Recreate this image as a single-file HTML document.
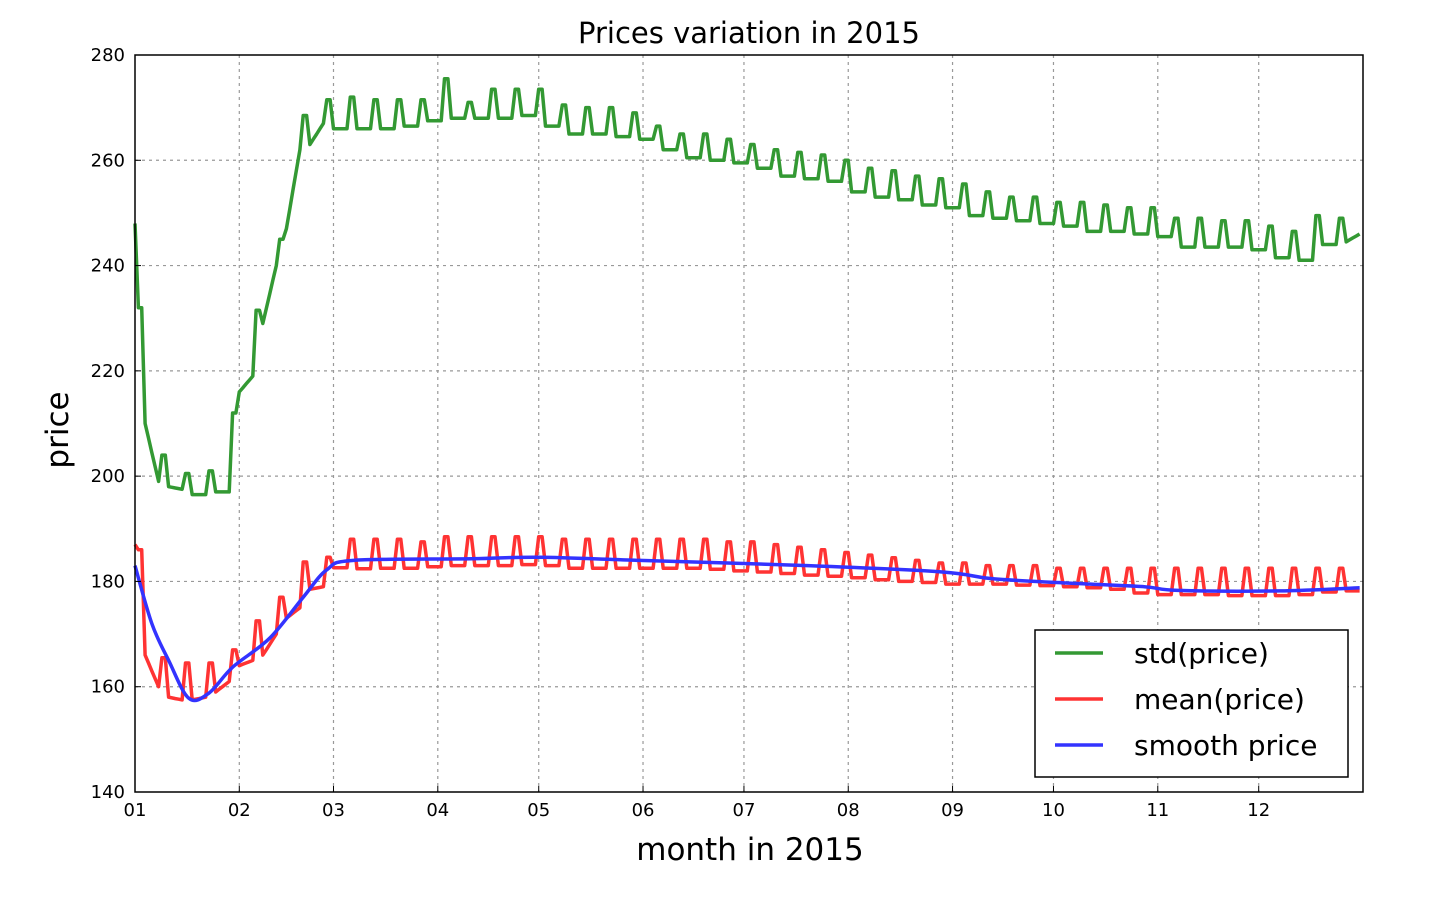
<!DOCTYPE html>
<html><head><meta charset="utf-8">
<style>
html,body{margin:0;padding:0;background:#fff;}
svg text{font-family:"DejaVu Sans","Liberation Sans",sans-serif;}
</style></head>
<body>
<svg id="chart" width="1438" height="904" viewBox="0 0 1438 904" xmlns="http://www.w3.org/2000/svg">
<text x="749" y="43" text-anchor="middle" font-size="29" fill="#000">Prices variation in 2015</text>
<g id="grid"></g>
<g id="series"></g>
<rect x="135" y="55" width="1228" height="737" fill="none" stroke="#000" stroke-width="1.5"/>
<g id="ticks"></g>
<text x="750" y="860" text-anchor="middle" font-size="31">month in 2015</text>
<text transform="translate(68,430) rotate(-90)" text-anchor="middle" font-size="31">price</text>
<g>
<rect x="1035" y="630" width="313" height="147" fill="#fff" stroke="#000" stroke-width="1.5"/>
<g><line x1="1055" y1="653" x2="1103" y2="653" stroke="#339933" stroke-width="3.5"/><text x="1134" y="663" font-size="28">std(price)</text></g>
<g><line x1="1055" y1="699" x2="1103" y2="699" stroke="#ff3333" stroke-width="3.5"/><text x="1134" y="709" font-size="28">mean(price)</text></g>
<g><line x1="1055" y1="745" x2="1103" y2="745" stroke="#3333ff" stroke-width="3.5"/><text x="1134" y="755" font-size="28">smooth price</text></g>
</g>
</svg>
<script>
const monthLabels = ["01","02","03","04","05","06","07","08","09","10","11","12"];
const monthStartDays = [0,31,59,90,120,151,181,212,243,273,304,334];
const yTicks = [140,160,180,200,220,240,260,280];
const stdStart = 248;
const stdPeak = [232,204,200.5,201,212,231.5,245,268.5,271.5,272,271.5,271.5,271.5,275.5,271,273.5,273.5,273.5,270.5,270,270,269,266.5,265,265,264,263,262,261.5,261,260,258.5,258,257,256.5,255.5,254,253,253,252,252,251.5,251,251,249,249,248.5,248.5,247.5,246.5,249.5,249];
const stdBase = [210,198,196.5,197,216,229,247,263,266,266,266,266.5,267.5,268,268,268,268.5,266.5,265,265,264.5,264,262,260.5,260,259.5,258.5,257,256.5,256,254,253,252.5,251.5,251,249.5,249,248.5,248,247.5,246.5,246.5,246,245.5,243.5,243.5,243.5,243,241.5,241,244,244.5];
const stdBaseEnd = [199,197.5,196.5,197,219,240,262,267,266,266,266,266.5,267.5,268,268,268,268.5,266.5,265,265,264.5,264,262,260.5,260,259.5,258.5,257,256.5,256,254,253,252.5,251.5,251,249.5,249,248.5,248,247.5,246.5,246.5,246,245.5,243.5,243.5,243.5,243,241.5,241,244,246];
const meanStart = 187;
const meanPeak = [186,165.5,164.5,164.5,167,172.5,177,183.7,184.6,188,188,188,187.5,188.5,188.5,188.5,188.5,188.5,188,188,188,188,188,188,188,187.5,187.5,187,186.5,186,185.5,185,184.5,184,183.5,183.5,183,183,183,182.5,182.5,182.5,182.5,182.5,182.5,182.5,182.5,182.5,182.5,182.5,182.5,182.5];
const meanBase = [166,158,157.5,159,164,166,173,178.5,182.6,182.4,182.5,182.5,182.8,183,183,183,183.2,183,182.5,182.5,182.5,182.5,182.5,182.5,182.3,182,181.8,181.5,181.2,181,180.7,180.3,180,179.8,179.5,179.5,179.5,179.3,179.2,179,178.8,178.5,177.8,177.5,177.5,177.5,177.3,177.3,177.3,177.5,178,178.2];
const meanBaseEnd = [160,157.5,158,161,165,170,175,179,182.6,182.4,182.5,182.5,182.8,183,183,183,183.2,183,182.5,182.5,182.5,182.5,182.5,182.5,182.3,182,181.8,181.5,181.2,181,180.7,180.3,180,179.8,179.5,179.5,179.5,179.3,179.2,179,178.8,178.5,177.8,177.5,177.5,177.5,177.3,177.3,177.3,177.5,178,178.2];
const smoothDays = [0,5,10,16,22,29,40,50,57,65,100,120,150,200,240,255,280,300,310,340,364];
const smoothVals = [183,172,165,157.8,158.8,163.7,169.2,177,182.2,184,184.3,184.6,184,183,181.8,180.5,179.6,179,178.3,178.2,178.8];

const L=135,R=1363,T=55,B=792;
const xs = d => L + d*(R-L)/365;
const ys = v => B - (v-140)*(B-T)/140;
const NS="http://www.w3.org/2000/svg";
const grid=document.getElementById('grid'), ticks=document.getElementById('ticks'), series=document.getElementById('series');
function mk(tag,attrs,parent){const e=document.createElementNS(NS,tag);for(const k in attrs)e.setAttribute(k,attrs[k]);parent.appendChild(e);return e;}

monthStartDays.forEach((d,i)=>{
  const x=xs(d);
  if(i>0){const g=mk('line',{x1:x,y1:T,x2:x,y2:B,stroke:'#999','stroke-dasharray':'3,4','stroke-width':1.2},grid);
  
  }
  const tk=mk('line',{x1:x,y1:B,x2:x,y2:B-6,stroke:'#000'},ticks);
  
  
  const t=mk('text',{x:x,y:B+24,'text-anchor':'middle','font-size':18},ticks);
  t.textContent=monthLabels[i];
  
  
});
yTicks.forEach(v=>{
  const y=ys(v);
  if(v>140&&v<280){const g=mk('line',{x1:L,y1:y,x2:R,y2:y,stroke:'#999','stroke-dasharray':'3,4','stroke-width':1.2},grid);
  
  }
  const tk=mk('line',{x1:L,y1:y,x2:L+6,y2:y,stroke:'#000'},ticks);
  
  
  const t=mk('text',{x:L-10,y:y+6,'text-anchor':'end','font-size':18},ticks);
  t.textContent=v;
  
  
});

function weekly(start,peak,base,baseEnd){
  const pts=[[0,start]];
  for(let k=0;k<peak.length;k++){
    const d=7*k+1;
    pts.push([d,peak[k]],[d+1,peak[k]]);
    for(let j=2;j<7;j++) pts.push([d+j,base[k]+(baseEnd[k]-base[k])*(j-2)/4]);
  }
  return pts;
}
function draw(pts,color,name){
  const p=mk('path',{d:pts.map((q,i)=>(i?'L':'M')+xs(q[0]).toFixed(1)+','+ys(q[1]).toFixed(1)).join(''),fill:'none',stroke:color,'stroke-width':3.5,'stroke-linejoin':'round'},series);
  
  
}
draw(weekly(stdStart,stdPeak,stdBase,stdBaseEnd),'#339933','std-price-line');
draw(weekly(meanStart,meanPeak,meanBase,meanBaseEnd),'#ff3333','mean-price-line');
(function(){
  const P=smoothDays.map((d,i)=>[xs(d),ys(smoothVals[i])]);
  let s='M'+P[0][0]+','+P[0][1];
  for(let i=0;i<P.length-1;i++){
    const p0=P[i-1]||P[i],p1=P[i],p2=P[i+1],p3=P[i+2]||P[i+1];
    s+='C'+(p1[0]+(p2[0]-p0[0])/6)+','+(p1[1]+(p2[1]-p0[1])/6)+' '+(p2[0]-(p3[0]-p1[0])/6)+','+(p2[1]-(p3[1]-p1[1])/6)+' '+p2[0]+','+p2[1];
  }
  const p=mk('path',{d:s,fill:'none',stroke:'#3333ff','stroke-width':3.5},series);
  
  
})();
</script>
</body></html>
